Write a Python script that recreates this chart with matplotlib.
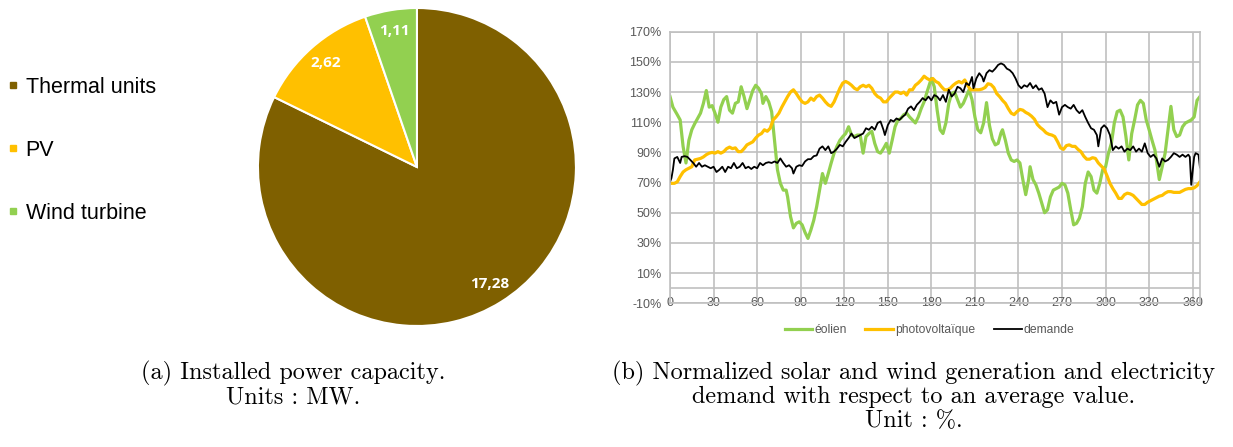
import numpy as np
import matplotlib.pyplot as plt
from matplotlib.lines import Line2D

# pie data (MW)
pie_labels = ['Thermal units', 'PV', 'Wind turbine']
pie_values = [17.28, 2.62, 1.11]
pie_colors = ['#7F6000', '#FFC000', '#92D050']

# normalized series (%)
wind_days = [0, 2, 5, 7, 9, 11, 13, 15, 17, 19, 21, 23, 25, 27, 29, 31, 33, 35, 37, 39, 41, 43, 45, 47, 49, 51, 53, 55, 57, 59,
             61, 63, 64, 66, 68, 70, 72, 74, 76, 78, 80, 81, 83, 85, 87, 89, 91, 93, 95, 97, 99, 101, 103, 105, 107, 109, 111, 113, 115, 117,
             119, 121, 123, 125, 127, 129, 131, 133, 135, 137, 139, 141, 143, 145, 147, 149, 151, 153, 155, 157, 159, 161, 163, 165, 167, 169, 171, 173, 175, 177,
             179, 180, 182, 184, 186, 188, 190, 192, 194, 196, 198, 200, 202, 204, 206, 208, 210, 212, 214, 216, 218, 220, 222, 224, 226, 228, 229, 231, 233, 235,
             237, 239, 241, 243, 245, 247, 248, 250, 252, 254, 256, 258, 260, 262, 264, 266, 268, 270, 272, 274, 276, 278, 280, 282, 284, 286, 288, 290, 292, 294,
             296, 298, 300, 302, 304, 306, 308, 310, 312, 314, 316, 318, 320, 322, 324, 326, 328, 330, 332, 334, 336, 337, 339, 341, 343, 345, 347, 349, 351, 353,
             355, 357, 359, 361, 363, 365]
wind_vals = [127, 120, 115, 111.5, 94, 83, 98, 105, 109, 112.5, 116, 122.5, 131, 120, 121, 116, 110, 120, 125, 127, 118, 116, 122.5, 123.5, 133.5, 127, 119, 125, 131, 134.5,
             132.5, 129, 122.5, 127, 123.5, 117, 98, 78.5, 69.5, 65, 65, 60.5, 47.5, 40, 43, 44, 42, 37, 33, 38.5, 45, 54, 65, 76, 69.5, 76, 83, 89.5, 94, 98,
             100.5, 102.5, 107, 101.5, 100.5, 101.5, 101.5, 89.5, 100.5, 102.5, 104, 96, 90.5, 89.5, 92.5, 96, 89.5, 98, 107, 111.5, 112.5, 115, 116, 113.5, 111.5, 109.5, 113.5, 119, 123.5, 130,
             136, 139, 133.5, 118, 105, 102.5, 109.5, 122.5, 129, 130, 125, 120, 122.5, 127, 131.5, 125, 113.5, 105, 103, 109.5, 123, 108, 99, 95, 96, 103, 105, 98, 89.5, 85,
             84, 85, 83, 72, 62, 72, 80.5, 72, 68.5, 63, 56.5, 50, 52, 60.5, 65, 66, 67, 69.5, 68.5, 63, 52, 42, 43, 46.5, 54, 69.5, 77, 74, 65, 63,
             69.5, 78.5, 80.5, 89.5, 96, 109.5, 117, 118, 113.5, 100.5, 85, 102.5, 111.5, 121.5, 124.5, 122.5, 111.5, 105, 98, 91.5, 78.5, 72, 80.5, 89.5, 105, 120.5, 105, 100.5, 101.5, 107,
             109.5, 110.5, 111.5, 113.5, 124.5, 127]

pv_days = [0, 3, 5, 7, 9, 11, 13, 15, 17, 19, 21, 23, 25, 27, 29, 31, 33, 35, 37, 39, 41, 43, 45, 47, 49, 51, 53, 55, 57, 59,
           61, 63, 65, 67, 69, 71, 73, 75, 77, 79, 81, 83, 85, 87, 89, 91, 93, 95, 97, 99, 101, 103, 105, 107, 109, 111, 113, 115, 117, 119,
           121, 123, 125, 127, 129, 131, 133, 135, 137, 139, 141, 143, 145, 147, 149, 151, 153, 155, 157, 159, 161, 163, 165, 167, 169, 171, 173, 175, 177, 179,
           181, 183, 185, 187, 189, 191, 193, 195, 197, 199, 201, 203, 205, 207, 209, 211, 213, 215, 217, 219, 221, 223, 225, 227, 229, 231, 233, 235, 237, 239,
           241, 243, 245, 247, 249, 251, 253, 255, 257, 259, 261, 263, 265, 267, 269, 271, 273, 275, 277, 279, 281, 283, 285, 287, 289, 291, 293, 295, 297, 299,
           301, 303, 305, 307, 309, 311, 313, 315, 317, 319, 321, 323, 325, 327, 329, 331, 333, 335, 337, 339, 341, 343, 345, 347, 349, 351, 353, 355, 357, 359,
           361, 363, 365]
pv_vals = [69.5, 69.5, 70.5, 74, 77, 78.5, 79.5, 80.5, 85, 85.5, 86, 87, 88.5, 89.5, 90, 89.5, 90.5, 89.5, 90.5, 92.5, 93.5, 92.5, 93, 90.5, 90.5, 92.5, 95, 96, 97, 99.5,
           101.5, 102.5, 105, 104, 106, 111.5, 113.5, 116, 120, 123.5, 127, 130, 131.5, 129, 126, 123.5, 122.5, 123.5, 126, 124.5, 127, 128, 126, 123.5, 121.5, 120.5, 123.5, 128, 132.5, 136,
           137, 136, 134.5, 132.5, 131.5, 133.5, 134.5, 133.5, 134.5, 132.5, 129, 127, 126, 123.5, 123.5, 126, 128, 130, 130, 129, 130, 128, 131.5, 131.5, 134.5, 136, 138, 140.5, 139, 138,
           139, 137, 136, 133.5, 131.5, 131.5, 132.5, 134.5, 136, 137, 136, 138, 134.5, 131.5, 131.5, 131.5, 131.5, 132, 133, 135.5, 135, 133, 129, 127, 124.5, 122.5, 119, 116, 115, 117,
           118.5, 118, 116.5, 115.5, 114, 112, 108.5, 106.5, 105, 103, 102, 101.5, 100.5, 97, 93, 92, 94.5, 95, 94, 94, 92, 90.5, 87.5, 85.5, 85.5, 86.5, 86, 83, 81, 79,
           74.5, 69.5, 66, 63, 59.5, 59.5, 62, 63, 62.5, 61.5, 59.5, 57.5, 55.5, 55.5, 57, 58, 59, 60, 61, 61.5, 63, 64, 64, 63.5, 63.5, 63.5, 64.5, 65.5, 66, 66,
           66.5, 68, 70.5]

demand_days = [0, 1, 2, 3, 5, 6, 7, 8, 10, 12, 14, 16, 18, 20, 22, 24, 26, 28, 30, 32, 34, 36, 38, 40, 42, 44, 46, 48, 50, 52,
               54, 56, 58, 60, 62, 64, 66, 68, 70, 72, 74, 76, 78, 80, 82, 84, 85, 87, 89, 91, 93, 95, 97, 99, 101, 103, 105, 107, 109, 111,
               113, 115, 117, 119, 121, 123, 125, 127, 129, 131, 133, 135, 137, 139, 141, 143, 145, 147, 148, 150, 152, 154, 156, 158, 160, 162, 164, 166, 168, 170,
               172, 174, 176, 178, 180, 182, 184, 186, 188, 190, 192, 194, 196, 198, 200, 202, 204, 206, 208, 209, 211, 213, 215, 216, 218, 220, 222, 224, 226, 228,
               230, 232, 234, 236, 238, 240, 242, 244, 246, 248, 250, 252, 254, 256, 258, 260, 262, 264, 266, 268, 270, 272, 274, 276, 278, 280, 282, 284, 286, 288,
               290, 292, 294, 295, 297, 299, 301, 303, 305, 307, 309, 311, 313, 315, 317, 319, 321, 323, 325, 327, 329, 331, 333, 335, 337, 339, 341, 343, 345, 347,
               349, 351, 353, 355, 357, 358, 359, 360, 361, 362, 364, 365]
demand_vals = [70.5, 73, 78.5, 86, 87, 85, 83, 87, 87.5, 87, 85, 83, 80.5, 83, 80.5, 81.5, 80.5, 79.5, 80.5, 77, 78.5, 80.5, 77, 80.5, 79.5, 83, 79.5, 80.5, 83, 79.5,
               80.5, 79, 80.5, 79.5, 83, 81.5, 83, 83.5, 83, 84, 83, 86, 83, 80.5, 81.5, 79.5, 76, 80.5, 81.5, 81, 84, 85.5, 85.5, 87.5, 88, 92.5, 94, 91.5, 94, 89.5,
               90.5, 92.5, 95, 94, 97, 99.5, 102.5, 99.5, 100.5, 101.5, 102.5, 106, 105, 107, 105, 109.5, 110.5, 105, 101.5, 108, 111.5, 110.5, 112.5, 111.5, 113.5, 115, 119, 120.5, 118, 121.5,
               123.5, 126, 124.5, 127, 124.5, 128, 127, 124.5, 128, 123.5, 131.5, 127, 129, 133.5, 132.5, 130, 136, 134.5, 140, 132.5, 139, 142.5, 140, 137, 142.5, 144.5, 143.5, 145.5, 148, 149,
               148, 145.5, 144.5, 142.5, 139, 134.5, 132.5, 134.5, 133.5, 136, 132.5, 134.5, 131.5, 132.5, 129, 120, 124.5, 122.5, 123.5, 115, 120, 121.5, 120, 119, 121.5, 118, 116, 118, 113.5, 109.5,
               106, 105, 101.5, 94, 106, 108, 106, 101.5, 91.5, 94, 92.5, 94, 90.5, 92.5, 91.5, 94, 90.5, 92.5, 90.5, 96, 89.5, 87, 88.5, 86, 80.5, 86, 84, 85, 87, 89.5,
               88.5, 87, 88.5, 87, 88.5, 87, 68.5, 78, 87, 89.5, 88.5, 80]

x_ticks = list(range(0, 361, 30))
y_ticks = list(range(-10, 171, 20))

fig = plt.figure(figsize=(12.33, 4.47), dpi=100)

# ---- (a) pie ----
ax1 = fig.add_axes([0.2092, 0.2707, 0.2579, 0.7114])
total = sum(pie_values)
wedges, texts, autotexts = ax1.pie(
    pie_values, colors=pie_colors, startangle=90, counterclock=False,
    wedgeprops=dict(edgecolor='white', linewidth=1.5),
    autopct=lambda p: ('%.2f' % (p * total / 100)).replace('.', ','),
    pctdistance=0.87,
    textprops=dict(color='white', fontsize=11, fontweight='bold', family='Open Sans'))
ax1.set_xlim(-1.0, 1.0)
ax1.set_ylim(-1.0, 1.0)
ax1.set_aspect('equal')

handles = [Line2D([], [], marker='s', linestyle='none', markersize=5,
                  markerfacecolor=c, markeredgecolor=c) for c in pie_colors]
fig.legend(handles, pie_labels, loc='center left', bbox_to_anchor=(0.006, 0.664),
           frameon=False, handlelength=0.5, handletextpad=0.35, labelspacing=1.95,
           borderpad=0, borderaxespad=0,
           prop=dict(family='Liberation Sans', size=15.5))

# ---- (b) lines ----
ax2 = fig.add_axes([0.5434, 0.3215, 0.4298, 0.6076])
ax2.plot(wind_days, wind_vals, color='#92D050', lw=2.3, label='éolien')
ax2.plot(pv_days, pv_vals, color='#FFC000', lw=2.3, label='photovoltaïque')
ax2.plot(demand_days, demand_vals, color='black', lw=1.3, label='demande')

ax2.set_xlim(0, 365)
ax2.set_ylim(-10, 170)
ax2.set_xticks(x_ticks)
ax2.set_yticks(y_ticks)
ax2.set_yticklabels([f'{t}%' for t in y_ticks])
ax2.grid(True, color='#C0C0C0', lw=1.2)
ax2.axhline(0, color='#C0C0C0', lw=1.2)
ax2.set_axisbelow(True)
for s in ax2.spines.values():
    s.set_color('#C0C0C0')
    s.set_linewidth(1.2)
ax2.tick_params(axis='both', length=0, labelsize=9, labelcolor='#595959')
ax2.tick_params(axis='x', pad=-4.5)
ax2.tick_params(axis='y', pad=6)
for lab in ax2.get_xticklabels() + ax2.get_yticklabels():
    lab.set_family('Liberation Sans')

ax2.legend(loc='center', bbox_to_anchor=(0.49, -0.10), ncol=3, frameon=False,
           handlelength=2.3, handletextpad=0.2, columnspacing=1.5,
           prop=dict(family='Liberation Sans', size=8.7), labelcolor='#595959')

# ---- captions ----
cap = dict(ha='center', va='center', family='cmr10', fontsize=17.5)
fig.text(0.238, 1 - 373 / 447, '(a) Installed power capacity.', **cap)
fig.text(0.238, 1 - 397 / 447, 'Units : MW.', **cap)
fig.text(0.7413, 1 - 373 / 447, '(b) Normalized solar and wind generation and electricity', **cap)
fig.text(0.7413, 1 - 397 / 447, 'demand with respect to an average value.', **cap)
fig.text(0.7413, 1 - 421 / 447, 'Unit : %.', **cap)

plt.savefig('out.png', dpi=100)
